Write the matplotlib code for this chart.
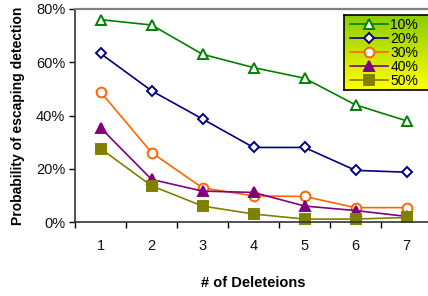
import numpy as np
import matplotlib
matplotlib.use("Agg")
import matplotlib.pyplot as plt
from matplotlib.ticker import FuncFormatter, FixedLocator

plt.rcParams['font.family'] = ['Liberation Sans', 'DejaVu Sans']

deletions = [1, 2, 3, 4, 5, 6, 7]
series_names = ["10%", "20%", "30%", "40%", "50%"]
p10 = [76, 74, 63, 58, 54, 44, 38]
p20 = [63.3, 49.3, 38.7, 28, 28, 19.4, 18.7]
p30 = [48.9, 26.1, 12.8, 9.8, 9.6, 5.4, 5.4]
p40 = [35.4, 16.0, 11.6, 11.1, 6.0, 4.3, 2.1]
p50 = [27.6, 13.6, 6.0, 3.0, 1.1, 1.1, 1.7]

colors = ["#008000", "#000080", "#FF6600", "#800080", "#808000"]
markers = ["^", "D", "o", "^", "s"]
filled = [False, False, False, True, True]
msizes = [7, 5.5, 7, 7, 7]

W, H = 428, 296
fig = plt.figure(figsize=(W / 100, H / 100), dpi=100)
ax = fig.add_axes([75 / W, 74 / H, 357 / W, 213 / H])

for vals, name, c, m, f, ms in zip([p10, p20, p30, p40, p50], series_names,
                                    colors, markers, filled, msizes):
    ax.plot(deletions, vals, color=c, lw=1.2, marker=m, ms=ms,
            mfc=c if f else "white", mec=c, mew=1.4, label=name, clip_on=False)

ax.set_xlim(0.5, 7.5)
ax.set_ylim(0, 80)
ax.yaxis.set_major_locator(FixedLocator([0, 20, 40, 60, 80]))
ax.yaxis.set_major_formatter(FuncFormatter(lambda v, p: f"{v:.0f}%"))
ax.set_xticks(deletions)
ax.set_xticks(np.arange(0.5, 7.6, 1), minor=True)
ax.tick_params(axis="x", which="major", length=0, pad=12, labelsize=10.5,
               labelcolor="#111111")
ax.tick_params(axis="x", which="minor", length=4, width=1, direction="out")
ax.tick_params(axis="y", length=4, width=1, direction="out", labelsize=10.5,
               pad=3, labelcolor="#111111")

for s in ["left", "bottom"]:
    ax.spines[s].set_linewidth(1.2)
    ax.spines[s].set_color("#333333")
ax.spines["top"].set_color("#808080")
ax.spines["top"].set_linewidth(1.6)
ax.spines["right"].set_visible(False)

ax.set_xlabel("# of Deleteions", fontsize=10.5, fontweight="bold", labelpad=17)
ax.set_ylabel("Probability of escaping detection", fontsize=10,
              fontweight="bold", labelpad=8)

# legend box: green-to-yellow gradient with black border
gax = fig.add_axes([344 / W, (H - 90) / H, 90 / W, 75 / H], zorder=0.5)
grad = np.linspace(0, 1, 100).reshape(-1, 1)
top = np.array([0.55, 0.8, 0.0])
bot = np.array([1.0, 1.0, 0.0])
img = top[None, None, :] * (1 - grad[:, :, None]) + bot[None, None, :] * grad[:, :, None]
gax.imshow(img, aspect="auto", extent=[0, 1, 0, 1], origin="upper")
gax.set_xticks([])
gax.set_yticks([])
for s in gax.spines.values():
    s.set_color("black")
    s.set_linewidth(1.2)

ax.legend(loc="upper left", bbox_to_anchor=(350 / W, (H - 18) / H),
          bbox_transform=fig.transFigure, fontsize=10, handlelength=2.7,
          handletextpad=0.2, labelspacing=0.0, borderpad=0.0,
          borderaxespad=0, frameon=False)
ax.set_zorder(1)
ax.patch.set_alpha(0)

fig.savefig("out.png", dpi=100)
